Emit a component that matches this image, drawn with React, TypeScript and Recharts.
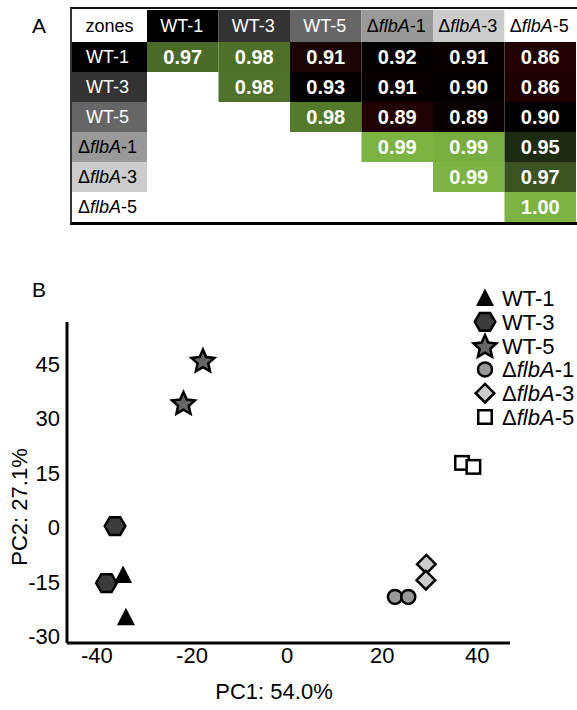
import React from 'react';
import { ScatterChart, Scatter, XAxis, YAxis, Legend } from 'recharts';

const FONT = '"Liberation Sans", Arial, Helvetica, sans-serif';

// ---------------- Panel A data ----------------
const zoneLabels = ['WT-1', 'WT-3', 'WT-5', 'ΔflbA-1', 'ΔflbA-3', 'ΔflbA-5'];
const cornerLabel = 'zones';
const corrWT1 = [0.97, 0.98, 0.91, 0.92, 0.91, 0.86];
const corrWT3 = [0.98, 0.93, 0.91, 0.9, 0.86];
const corrWT5 = [0.98, 0.89, 0.89, 0.9];
const corrD1 = [0.99, 0.99, 0.95];
const corrD3 = [0.99, 0.97];
const corrD5 = [1.0];
const corrRows = [corrWT1, corrWT3, corrWT5, corrD1, corrD3, corrD5];

// Panel A styles
const zoneFill = ['#000000', '#333333', '#666666', '#999999', '#cccccc', '#ffffff'];
const zoneInk = ['#ffffff', '#ffffff', '#ffffff', '#000000', '#000000', '#000000'];
const cellFill = [
  ['#4a6a27', '#4e7029', '#1c0303', '#050000', '#070000', '#210101'],
  ['#4f712a', '#030000', '#060000', '#020000', '#1d0101'],
  ['#557a2c', '#200101', '#090000', '#010000'],
  ['#7cb342', '#78ae40', '#1e2b13'],
  ['#7cb342', '#3b5323'],
  ['#7cb342'],
];

// ---------------- Panel B data ----------------
const pcWT1 = [{ x: -34.5, y: -13.1 }, { x: -33.9, y: -24.7 }];
const pcWT3 = [{ x: -36.2, y: 0.4 }, { x: -38.0, y: -15.3 }];
const pcWT5 = [{ x: -17.7, y: 46.1 }, { x: -21.8, y: 34.4 }];
const pcD1 = [{ x: 22.7, y: -19.1 }, { x: 25.5, y: -19.1 }];
const pcD3 = [{ x: 29.3, y: -10.1 }, { x: 29.2, y: -14.5 }];
const pcD5 = [{ x: 36.8, y: 17.8 }, { x: 39.2, y: 16.7 }];
const pcXTicks = [-40, -20, 0, 20, 40];
const pcYTicks = [-30, -15, 0, 15, 30, 45];
const pcXDomain = [-46.3, 46.9];
const pcYDomain = [-31.8, 56.6];
const pcXLabel = 'PC1: 54.0%';
const pcYLabel = 'PC2: 27.1%';

// ---------------- helpers ----------------
const zoneText = (label: string) => {
  const m = label.match(/^Δ([A-Za-z]+)(-\d+)$/);
  if (!m) return label;
  return (
    <>
      Δ<tspan fontStyle="italic">{m[1]}</tspan>
      {m[2]}
    </>
  );
};

// ---------------- Panel A layout ----------------
const T_W = 577;
const T_H = 235;
const T_LEFT = 70;
const T_LABEL_W = 77;
const T_TOP = 10;
const T_HEAD_H = 32;
const T_BOTTOM = 13;
const T_RIGHT = 1;
const T_PLOT_W = T_W - T_LEFT - T_LABEL_W - T_RIGHT;
const T_PLOT_H = T_H - T_TOP - T_HEAD_H - T_BOTTOM;
const NCOL = zoneLabels.length;
const CELL_W = T_PLOT_W / NCOL;
const ROW_H = T_PLOT_H / NCOL;
const bandTicks = zoneLabels.map((_, i) => i + 0.5);

const cellPoints = corrRows.flatMap((row, r) =>
  row.map((v, k) => ({ c: r + k + 0.5, r: r + 0.5, v, ri: r, ki: k }))
);

const HeaderTick = (props: any) => {
  const { x, payload } = props;
  const i = Math.floor(payload.value);
  return (
    <g>
      <rect x={x - CELL_W / 2} y={T_TOP} width={CELL_W} height={T_HEAD_H} fill={zoneFill[i]} />
      <text
        x={x - 1}
        y={T_TOP + T_HEAD_H / 2}
        dy="0.36em"
        textAnchor="middle"
        fontSize={18}
        fontFamily={FONT}
        fill={zoneInk[i]}
      >
        {zoneText(zoneLabels[i])}
      </text>
    </g>
  );
};

const RowTick = (props: any) => {
  const { y, payload } = props;
  const i = Math.floor(payload.value);
  const x0 = T_LEFT + 2;
  const w = T_LABEL_W - 2;
  return (
    <g>
      <rect x={x0} y={y - ROW_H / 2} width={w} height={ROW_H} fill={zoneFill[i]} />
      <text
        x={x0 + w / 2 - 2}
        y={y}
        dy="0.36em"
        textAnchor="middle"
        fontSize={18}
        fontFamily={FONT}
        fill={zoneInk[i]}
      >
        {zoneText(zoneLabels[i])}
      </text>
    </g>
  );
};

const CornerCell = () => {
  const x0 = T_LEFT + 2;
  const w = T_LABEL_W - 2;
  return (
    <g>
      <rect x={x0} y={T_TOP} width={w} height={T_HEAD_H} fill="#ffffff" />
      <text
        x={x0 + w / 2}
        y={T_TOP + T_HEAD_H / 2}
        dy="0.36em"
        textAnchor="middle"
        fontSize={18}
        fontFamily={FONT}
        fill="#000"
      >
        {cornerLabel}
      </text>
    </g>
  );
};

const CellShape = (props: any) => {
  const { cx, cy, payload } = props;
  if (cx == null || cy == null) return null;
  return (
    <g>
      <rect
        x={cx - CELL_W / 2}
        y={cy - ROW_H / 2}
        width={CELL_W}
        height={ROW_H}
        fill={cellFill[payload.ri][payload.ki]}
      />
      <text
        x={cx}
        y={cy}
        dy="0.36em"
        textAnchor="middle"
        fontSize={20}
        fontWeight="bold"
        fontFamily={FONT}
        fill="#ffffff"
      >
        {payload.v.toFixed(2)}
      </text>
    </g>
  );
};

// ---------------- markers ----------------
const SW = 2.5;
const drawTriangle = (cx: number, cy: number) => (
  <polygon points={`${cx},${cy - 9.5} ${cx + 9},${cy + 8} ${cx - 9},${cy + 8}`} fill="#000" />
);
const drawHexagon = (cx: number, cy: number) => {
  const R = 10.3;
  const pts = [0, 1, 2, 3, 4, 5]
    .map((k) => {
      const a = (Math.PI / 3) * k;
      return `${cx + R * Math.cos(a)},${cy + R * Math.sin(a)}`;
    })
    .join(' ');
  return <polygon points={pts} fill="#3b3b3b" stroke="#000" strokeWidth={SW} strokeLinejoin="miter" />;
};
const drawStar = (cx: number, cy: number) => {
  const R = 12;
  const r = 5.6;
  const pts = Array.from({ length: 10 }, (_, k) => {
    const a = -Math.PI / 2 + (Math.PI / 5) * k;
    const rr = k % 2 === 0 ? R : r;
    return `${cx + rr * Math.cos(a)},${cy + 1.5 + rr * Math.sin(a)}`;
  }).join(' ');
  return <polygon points={pts} fill="#666666" stroke="#000" strokeWidth={SW} strokeLinejoin="miter" />;
};
const drawCircle = (cx: number, cy: number) => (
  <circle cx={cx} cy={cy} r={7} fill="#999999" stroke="#000" strokeWidth={SW} />
);
const drawDiamond = (cx: number, cy: number) => {
  const h = 9.3;
  return (
    <polygon
      points={`${cx},${cy - h} ${cx + h},${cy} ${cx},${cy + h} ${cx - h},${cy}`}
      fill="#cccccc"
      stroke="#000"
      strokeWidth={SW}
      strokeLinejoin="miter"
    />
  );
};
const drawSquare = (cx: number, cy: number) => {
  const s = 13.5;
  return <rect x={cx - s / 2} y={cy - s / 2} width={s} height={s} fill="#ffffff" stroke="#000" strokeWidth={SW} />;
};

const markers = [drawTriangle, drawHexagon, drawStar, drawCircle, drawDiamond, drawSquare];
const seriesData = [pcWT1, pcWT3, pcWT5, pcD1, pcD3, pcD5];
// drawing order: WT-3 hexagons under WT-1 triangles
const drawOrder = [1, 0, 2, 3, 4, 5];

const makeShape = (i: number) => (props: any) => {
  const { cx, cy } = props;
  if (cx == null || cy == null) return null;
  return <g>{markers[i](cx, cy)}</g>;
};

// ---------------- Panel B layout ----------------
const PC_W = 577;
const PC_H = 430;
const PC_TOP = 42;
const PC_YAXIS_W = 67;
const PC_RIGHT = 67;
const PC_XAXIS_H = 67;
const LEG_ROW = 23.8;

const renderLegend = () => (
  <svg width={107} height={150} style={{ display: 'block' }}>
    {zoneLabels.map((name, i) => {
      const cy = 12 + i * LEG_ROW;
      return (
        <g key={name}>
          {markers[i](15, cy)}
          <text x={32} y={cy} dy="0.36em" fontSize={22} fontFamily={FONT} fill="#000">
            {zoneText(name)}
          </text>
        </g>
      );
    })}
  </svg>
);

const renderXLabel = () => (
  <text
    x={PC_YAXIS_W + 207}
    y={PC_H - PC_XAXIS_H + 56}
    textAnchor="middle"
    fontSize={22}
    fontFamily={FONT}
    fill="#000"
  >
    {pcXLabel}
  </text>
);

const renderYLabel = () => {
  const x = 19;
  const y = 227;
  return (
    <text
      x={x}
      y={y}
      transform={`rotate(-90 ${x} ${y})`}
      dy="0.36em"
      textAnchor="middle"
      fontSize={22}
      fontFamily={FONT}
      fill="#000"
    >
      {pcYLabel}
    </text>
  );
};

const panelLetter = (t: string, left: number, top: number) => (
  <div
    style={{
      position: 'absolute',
      left,
      top,
      fontSize: 21,
      lineHeight: '21px',
      fontFamily: FONT,
      color: '#000',
    }}
  >
    {t}
  </div>
);

export default function App() {
  const tickStyle = { fill: '#000', fontSize: 22, fontFamily: FONT };
  const axisLineStyle = { stroke: '#000', strokeWidth: 3 };
  return (
    <div
      style={{
        position: 'absolute',
        left: 0,
        top: 0,
        width: 577,
        height: 710,
        overflow: 'hidden',
        background: '#fff',
        fontFamily: FONT,
      }}
    >
      {panelLetter('A', 32, 15)}
      {panelLetter('B', 32, 279)}

      {/* Panel A: correlation table */}
      <div style={{ position: 'absolute', left: 0, top: 0 }}>
        <ScatterChart
          width={T_W}
          height={T_H}
          margin={{ top: T_TOP, right: T_RIGHT, bottom: T_BOTTOM, left: T_LEFT }}
        >
          <XAxis
            type="number"
            dataKey="c"
            domain={[0, NCOL]}
            orientation="top"
            ticks={bandTicks}
            interval={0}
            height={T_HEAD_H}
            axisLine={false}
            tickLine={false}
            tickSize={0}
            tick={<HeaderTick />}
          />
          <YAxis
            type="number"
            dataKey="r"
            domain={[0, NCOL]}
            reversed
            ticks={bandTicks}
            interval={0}
            width={T_LABEL_W}
            axisLine={false}
            tickLine={false}
            tickSize={0}
            tick={<RowTick />}
            label={{ content: () => <CornerCell /> }}
          />
          <Scatter data={cellPoints} shape={CellShape} isAnimationActive={false} />
        </ScatterChart>
      </div>
      <div
        style={{
          position: 'absolute',
          left: 70,
          top: 7,
          width: 507,
          height: 218,
          boxSizing: 'border-box',
          borderTop: '2px solid #111',
          borderLeft: '2px solid #333',
          borderBottom: '3px solid #000',
          pointerEvents: 'none',
        }}
      />

      {/* Panel B: PCA scatter */}
      <div style={{ position: 'absolute', left: 0, top: 280 }}>
        <ScatterChart
          width={PC_W}
          height={PC_H}
          margin={{ top: PC_TOP, right: PC_RIGHT, bottom: 0, left: 0 }}
        >
          <XAxis
            type="number"
            dataKey="x"
            domain={pcXDomain}
            ticks={pcXTicks}
            interval={0}
            height={PC_XAXIS_H}
            stroke="#000"
            axisLine={axisLineStyle}
            tickLine={false}
            tickSize={0}
            tickMargin={4}
            tick={tickStyle}
            label={{ content: renderXLabel }}
          />
          <YAxis
            type="number"
            dataKey="y"
            domain={pcYDomain}
            ticks={pcYTicks}
            interval={0}
            width={PC_YAXIS_W}
            stroke="#000"
            axisLine={axisLineStyle}
            tickLine={false}
            tickSize={0}
            tickMargin={7}
            tick={tickStyle}
            label={{ content: renderYLabel }}
          />
          {drawOrder.map((i) => (
            <Scatter
              key={zoneLabels[i]}
              name={zoneLabels[i]}
              data={seriesData[i]}
              shape={makeShape(i)}
              isAnimationActive={false}
            />
          ))}
          <Legend
            layout="vertical"
            align="center"
            verticalAlign="middle"
            wrapperStyle={{ left: 470, top: 6, width: 107 }}
            content={renderLegend}
          />
        </ScatterChart>
      </div>
    </div>
  );
}
